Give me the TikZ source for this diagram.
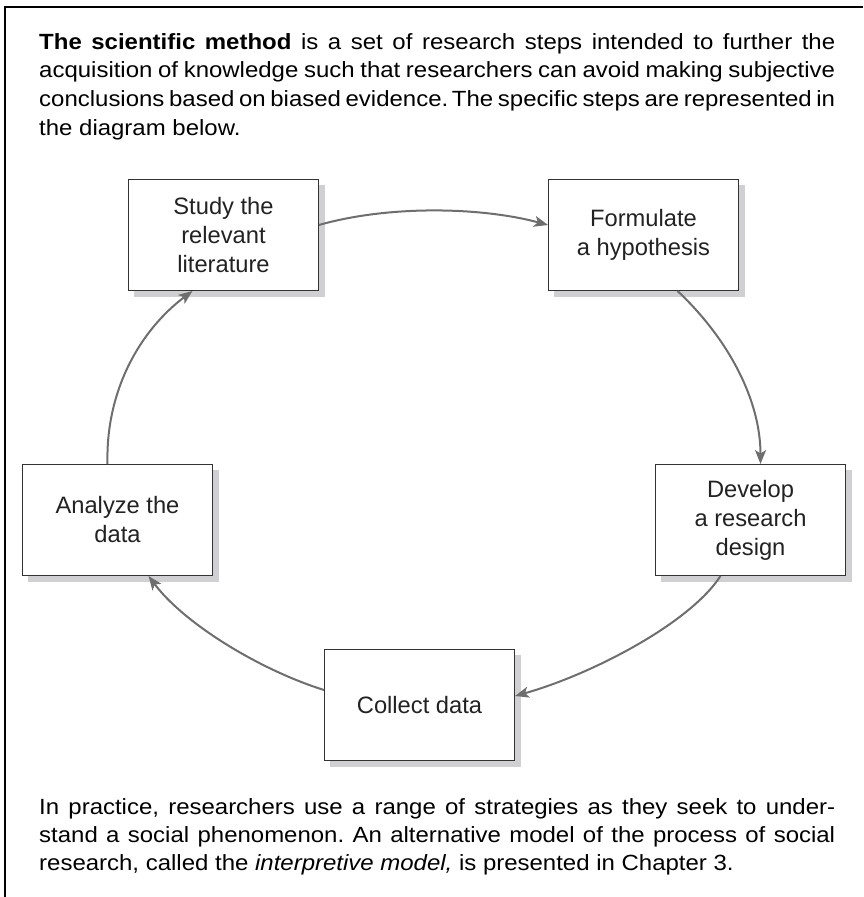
\documentclass[tikz,border=0pt]{standalone}
\usepackage{fontspec}
\setmainfont{Liberation Sans}
\newfontfamily\bodyfont{Liberation Sans}[FakeStretch=1.09]
\usetikzlibrary{arrows.meta,calc,backgrounds}
\definecolor{boxline}{HTML}{333333}
\definecolor{shadowgray}{HTML}{D0D0D2}
\definecolor{arrowgray}{HTML}{6E6E6E}
\definecolor{boxtext}{HTML}{222222}
\newcommand{\jline}[1]{\hbox to 796pt{#1}}
\newcommand{\boxshadow}[1]{\fill[shadowgray] ($(#1.north west)+(6,6)$) rectangle ($(#1.south east)+(6,6)$);}
\frenchspacing
\tikzset{
  stepbox/.style={draw=boxline, fill=white, line width=1.4pt,
    minimum width=189.5pt, minimum height=110.5pt, inner sep=0pt,
    align=center, text=boxtext,
    font=\fontsize{23.7}{29}\selectfont},
  arr/.style={draw=arrowgray, line width=2pt,
    -{Stealth[length=14pt,width=11pt,inset=3.5pt]}},
  bodytext/.style={anchor=base west, inner sep=0pt,
    font=\bodyfont\fontsize{22}{28.5}\selectfont},
  frame/.style={line width=1.3pt, draw=black}
}
\begin{document}
\begin{tikzpicture}[x=1pt,y=-1pt]
\useasboundingbox (0,0) rectangle (863,897);
% frame
\coordinate (fbl) at (5,897);
\coordinate (ftl) at (5,7);
\coordinate (ftr) at (863,7);
\draw[frame] (fbl) -- (ftl) -- (ftr);
% top paragraph
\node[bodytext] (p1) at (39,49.3) {\jline{\textbf{The scientific method} is a set of research steps intended to further the}};
\node[bodytext] (p2) at (39,77.9) {\jline{acquisition of knowledge such that researchers can avoid making subjective}};
\node[bodytext] (p3) at (39,106.5) {\jline{conclusions based on biased evidence.\,The specific steps are represented in}};
\node[bodytext] (p4) at (39,135.1) {the diagram below.};
% boxes
\node[stepbox] (study) at (223.5,235) {Study the\\relevant\\literature};
\node[stepbox] (form) at (643.5,235) {Formulate\\a hypothesis};
\node[stepbox] (ana) at (117.5,520) {Analyze the\\data};
\node[stepbox] (dev) at (750.5,520) {Develop\\a research\\design};
\node[stepbox] (coll) at (419.5,705) {Collect data};
\begin{pgfonlayer}{background}
\boxshadow{study}
\boxshadow{form}
\boxshadow{ana}
\boxshadow{dev}
\boxshadow{coll}
\end{pgfonlayer}
% arrows
\draw[arr] ($(study.east)+(0,-10)$) .. controls +(70,-20) and +(-67,-18) .. ($(form.west)+(0,-10)$);
\draw[arr] ($(form.south)+(34,0)$) .. controls +(52,49) and +(0,-63) .. ($(dev.north)+(10,0)$);
\draw[arr] ($(dev.south)+(-30,0)$) .. controls +(-31,48) and +(75,-21) .. ($(coll.east)+(0,-9)$);
\draw[arr] ($(coll.west)+(0,-15)$) .. controls +(-64,-20) and +(36,48) .. ($(ana.south)+(31,0)$);
\draw[arr] ($(ana.north)+(-10,0)$) .. controls +(-2,-74) and +(-52,39) .. ($(study.south)+(-31,0)$);
% bottom paragraph
\node[bodytext] (q1) at (39,814.3) {\jline{In practice, researchers use a range of strategies as they seek to under-}};
\node[bodytext] (q2) at (39,842.6) {\jline{stand a social phenomenon. An alternative model of the process of social}};
\node[bodytext] (q3) at (39,870.9) {research, called the \textit{interpretive model,} is presented in Chapter 3.};
\end{tikzpicture}
\end{document}
